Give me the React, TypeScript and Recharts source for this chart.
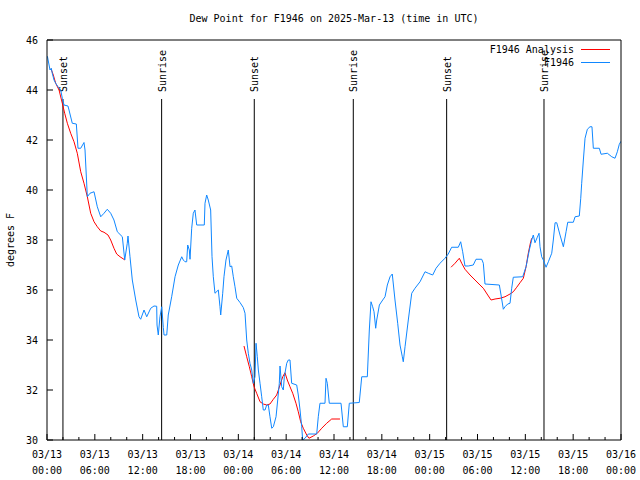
import { LineChart, Line, XAxis, YAxis, ReferenceLine } from "recharts";

const FONT = '"DejaVu Sans Mono", "Liberation Mono", monospace';

// hours since 2025-03-13 00:00 UTC
const blueHours = [
  0.05, 0.38, 0.54, 0.66, 0.88, 1.09, 1.38, 1.72, 1.92, 2.13,
  2.63, 2.76, 3.17, 3.68, 3.89, 4.23, 4.64, 4.77, 5.06, 5.39,
  5.9, 6.31, 6.74, 7.15, 7.56, 7.99, 8.4, 8.82, 9.45, 9.75,
  10.07, 10.16, 10.41, 10.7, 11.13, 11.54, 11.75, 12.17, 12.51, 13.01,
  13.42, 13.76, 13.8, 13.96, 14.17, 14.39, 14.59, 14.68, 15.02, 15.21,
  15.64, 16.06, 16.47, 16.9, 17.1, 17.31, 17.52, 17.65, 17.85, 17.94,
  18.15, 18.35, 18.56, 18.78, 19.73, 19.82, 20.03, 20.23, 20.53, 20.7,
  20.86, 21.07, 21.49, 21.7, 21.79, 22.04, 22.2, 22.45, 22.74, 22.96,
  23.17, 23.37, 23.58, 23.8, 24.21, 24.62, 24.84, 25.05, 25.25, 25.46,
  25.68, 25.88, 26.09, 26.22, 26.38, 26.51, 26.72, 26.93, 27.13, 27.35,
  27.56, 27.76, 27.97, 28.19, 28.39, 28.73, 28.94, 29.14, 29.23, 29.44,
  29.64, 29.77, 30.07, 30.27, 30.48, 30.69, 31.32, 31.52, 31.74, 31.95,
  32.07, 32.36, 32.78, 33.83, 34.03, 34.24, 34.87, 35.0, 35.16, 35.41,
  36.88, 37.17, 37.67, 37.92, 39.17, 39.48, 40.18, 40.43, 40.64, 40.85,
  41.02, 41.23, 41.36, 41.69, 42.11, 42.4, 42.69, 43.03, 43.31, 43.65,
  43.99, 44.28, 44.57, 44.69, 44.91, 45.32, 45.75, 46.16, 46.79, 47.42,
  47.83, 48.38, 48.8, 49.3, 49.92, 50.33, 50.76, 51.59, 51.89, 52.14,
  52.43, 52.84, 53.47, 53.81, 54.53, 54.73, 54.94, 56.74, 56.95, 57.24,
  57.45, 57.79, 58.08, 58.29, 58.49, 59.67, 60.09, 60.5, 60.8, 61.0,
  61.21, 61.5, 61.72, 61.84, 62.05, 62.26, 62.6, 62.89, 63.31, 63.51,
  63.73, 63.94, 64.35, 64.77, 65.11, 65.32, 66.02, 66.24, 66.77, 66.95,
  67.07, 67.28, 67.49, 67.78, 68.11, 68.36, 68.53, 69.28, 69.5, 70.29,
  70.84, 71.25, 71.54, 71.79, 72.0,
];
const blueValues = [
  45.35, 44.8, 44.87, 44.67, 44.4, 44.27, 44.13, 44.0, 43.67, 43.4,
  43.36, 43.2, 42.67, 42.64, 41.67, 41.67, 41.9, 41.6, 39.73, 39.87,
  39.93, 39.33, 38.93, 39.07, 39.23, 39.07, 38.8, 38.33, 38.13, 37.2,
  37.87, 38.16, 37.33, 36.4, 35.6, 34.93, 34.83, 35.2, 34.93, 35.27,
  35.36, 35.35, 34.6, 34.2, 34.93, 35.33, 34.5, 34.2, 34.2, 35.0,
  35.73, 36.53, 37.0, 37.33, 37.2, 37.13, 37.13, 37.8, 37.6, 37.23,
  38.47, 39.07, 39.2, 38.6, 38.6, 39.47, 39.8, 39.6, 39.2, 37.33,
  36.53, 35.87, 36.0, 35.33, 35.0, 35.87, 36.53, 37.2, 37.6, 36.93,
  36.96, 36.53, 36.13, 35.67, 35.5, 35.3, 35.07, 34.0, 33.47, 33.07,
  32.8, 32.27, 32.53, 33.87, 33.33, 32.8, 32.27, 31.73, 31.2, 31.2,
  31.4, 31.4, 30.93, 30.47, 30.53, 30.93, 31.6, 32.27, 32.96, 32.13,
  32.0, 32.53, 33.07, 33.2, 33.2, 32.27, 32.2, 31.8, 31.2, 30.53,
  30.0, 30.07, 30.24, 30.24, 30.93, 31.47, 31.47, 32.47, 32.27, 31.47,
  31.47, 30.53, 30.53, 31.47, 31.5, 32.53, 32.53, 34.4, 35.53, 35.33,
  35.13, 34.47, 34.8, 35.4, 35.6, 35.73, 36.2, 36.53, 36.64, 35.6,
  34.67, 33.8, 33.33, 33.13, 33.73, 34.8, 35.87, 36.07, 36.33, 36.73,
  36.67, 36.6, 36.87, 37.07, 37.27, 37.44, 37.71, 37.71, 37.93, 37.53,
  36.96, 36.96, 37.0, 37.23, 37.23, 37.07, 36.24, 36.2, 35.8, 35.23,
  35.33, 35.44, 35.47, 36.07, 36.51, 36.53, 36.93, 37.6, 38.0, 38.2,
  37.89, 38.11, 38.27, 37.73, 37.33, 37.2, 36.91, 37.13, 37.47, 38.0,
  38.69, 38.69, 38.2, 37.73, 38.33, 38.71, 38.71, 38.93, 38.96, 39.67,
  40.27, 41.2, 42.07, 42.43, 42.53, 42.53, 41.67, 41.67, 41.43, 41.47,
  41.33, 41.27, 41.53, 41.83, 41.95,
];

// analysis runs, three separate pieces
const analysis1Hours = [0.5, 0.79, 1.09, 1.51, 1.92, 2.22, 2.55, 2.97, 3.39, 3.8, 4.23, 4.64, 5.06, 5.48, 5.9, 6.31, 6.74, 7.15, 7.65, 7.99, 8.4, 8.74, 9.16, 9.78];
const analysis1Values = [44.85, 44.6, 44.27, 44.0, 43.47, 43.07, 42.67, 42.27, 41.93, 41.47, 40.73, 40.27, 39.73, 39.07, 38.73, 38.53, 38.36, 38.31, 38.2, 38.0, 37.67, 37.44, 37.33, 37.2];

const analysis2Hours = [24.71, 25.05, 25.38, 25.68, 25.97, 26.3, 26.72, 27.13, 27.56, 27.97, 28.39, 28.81, 29.23, 29.57, 29.85, 30.14, 30.48, 30.82, 31.23, 31.52, 31.82, 32.15, 32.58, 32.86, 33.4, 33.91, 34.46, 35.08, 35.71, 36.75];
const analysis2Values = [33.76, 33.33, 32.93, 32.53, 32.13, 31.87, 31.53, 31.44, 31.4, 31.44, 31.63, 31.8, 32.2, 32.53, 32.69, 32.4, 32.13, 31.87, 31.47, 31.13, 30.73, 30.47, 30.2, 30.07, 30.16, 30.27, 30.47, 30.67, 30.84, 30.84];

const analysis3Hours = [50.68, 51.18, 51.72, 52.02, 52.43, 53.06, 53.69, 54.31, 54.73, 55.28, 55.7, 56.2, 56.83, 57.45, 58.08, 58.49, 58.92, 59.33, 59.75, 60.09, 60.37, 60.67, 60.8];
const analysis3Values = [36.91, 37.07, 37.27, 37.07, 36.83, 36.6, 36.4, 36.2, 36.07, 35.8, 35.6, 35.64, 35.67, 35.73, 35.84, 35.93, 36.11, 36.29, 36.47, 36.93, 37.47, 37.93, 38.07];

const sunHours = [2.0, 14.38, 26.0, 38.42, 50.13, 62.34];
const sunLabels = ["Sunset", "Sunrise", "Sunset", "Sunrise", "Sunset", "Sunrise"];

const xTicks = Array.from({ length: 37 }, (_, i) => i * 2);
const dayLabels = ["03/13", "03/13", "03/13", "03/13", "03/14", "03/14", "03/14", "03/14", "03/15", "03/15", "03/15", "03/15", "03/16"];
const timeLabels = ["00:00", "06:00", "12:00", "18:00", "00:00", "06:00", "12:00", "18:00", "00:00", "06:00", "12:00", "18:00", "00:00"];
const yTicks = [30, 32, 34, 36, 38, 40, 42, 44, 46];

const BLUE = "#0f87ff";
const RED = "#ff0000";

const zip = (hs: number[], vs: number[]) => hs.map((h, i) => ({ h, v: vs[i] }));
const station = zip(blueHours, blueValues);
const analysisParts = [
  zip(analysis1Hours, analysis1Values),
  zip(analysis2Hours, analysis2Values),
  zip(analysis3Hours, analysis3Values),
];

function BottomTick(props: any) {
  const { x, y, payload } = props;
  const val = payload.value as number;
  const major = val % 6 === 0;
  const idx = val / 6;
  return (
    <g>
      <line x1={x} y1={y} x2={x} y2={y - (major ? 6 : 3)} stroke="#000" />
      {major && (
        <text x={x} y={y} textAnchor="middle" fontFamily={FONT} fontSize={10} fill="#000">
          <tspan x={x} dy={18}>{dayLabels[idx]}</tspan>
          <tspan x={x} dy={16}>{timeLabels[idx]}</tspan>
        </text>
      )}
    </g>
  );
}

function TopTick(props: any) {
  const { x, y, payload } = props;
  const major = (payload.value as number) % 6 === 0;
  return <line x1={x} y1={y} x2={x} y2={y + (major ? 6 : 3)} stroke="#000" />;
}

function LeftTick(props: any) {
  const { x, y, payload } = props;
  return (
    <g>
      <line x1={x} y1={y} x2={x + 6} y2={y} stroke="#000" />
      <text x={x - 9} y={y} dy={4} textAnchor="end" fontFamily={FONT} fontSize={10} fill="#000">
        {payload.value}
      </text>
    </g>
  );
}

function RightTick(props: any) {
  const { x, y } = props;
  return <line x1={x} y1={y} x2={x - 6} y2={y} stroke="#000" />;
}

function YTitle(props: any) {
  const { x, y, height } = props.viewBox;
  const cx = x - 32;
  const cy = y + height / 2;
  return (
    <text x={cx} y={cy} transform={`rotate(-90 ${cx} ${cy})`} textAnchor="middle" fontFamily={FONT} fontSize={10} fill="#000">
      degrees F
    </text>
  );
}

function SunMark(props: any) {
  const { x, y, height } = props.viewBox;
  const tx = x + 4;
  const ty = y + 52;
  return (
    <g>
      <line x1={x} y1={y + 59} x2={x} y2={y + height} stroke="#000" />
      <text x={tx} y={ty} transform={`rotate(-90 ${tx} ${ty})`} textAnchor="start" fontFamily={FONT} fontSize={10} fill="#000">
        {props.text}
      </text>
    </g>
  );
}

const legendItems = [
  { label: "F1946 Analysis", color: RED },
  { label: "F1946", color: BLUE },
];

export default function App() {
  return (
    <div style={{ position: "absolute", left: 0, top: 0, width: 640, height: 480, background: "#fff", fontFamily: FONT }}>
      <div style={{ position: "absolute", left: 47, width: 574, top: 12, textAlign: "center", fontSize: 10, lineHeight: "14px" }}>
        Dew Point for F1946 on 2025-Mar-13 (time in UTC)
      </div>
      <LineChart width={640} height={480} margin={{ top: 39, right: 18, bottom: 39, left: 46 }}>
        <XAxis
          xAxisId="bottom"
          dataKey="h"
          type="number"
          domain={[0, 72]}
          ticks={xTicks}
          interval={0}
          height={1}
          tickSize={0}
          tickMargin={0}
          tickLine={false}
          tick={<BottomTick />}
          axisLine={{ stroke: "#000" }}
          allowDataOverflow
        />
        <XAxis
          xAxisId="top"
          orientation="top"
          dataKey="h"
          type="number"
          domain={[0, 72]}
          ticks={xTicks}
          interval={0}
          height={1}
          tickSize={0}
          tickMargin={0}
          tickLine={false}
          tick={<TopTick />}
          axisLine={{ stroke: "#000" }}
        />
        <YAxis
          yAxisId="left"
          type="number"
          domain={[30, 46]}
          ticks={yTicks}
          interval={0}
          width={1}
          tickSize={0}
          tickMargin={0}
          tickLine={false}
          tick={<LeftTick />}
          axisLine={{ stroke: "#000" }}
          label={<YTitle />}
          allowDataOverflow
        />
        <YAxis
          yAxisId="right"
          orientation="right"
          type="number"
          domain={[30, 46]}
          ticks={yTicks}
          interval={0}
          width={1}
          tickSize={0}
          tickMargin={0}
          tickLine={false}
          tick={<RightTick />}
          axisLine={{ stroke: "#000" }}
        />
        {sunHours.map((h, i) => (
          <ReferenceLine
            key={`sun-${i}`}
            x={h}
            xAxisId="bottom"
            yAxisId="left"
            stroke="none"
            label={<SunMark text={sunLabels[i]} />}
          />
        ))}
        {analysisParts.map((part, i) => (
          <Line
            key={`an-${i}`}
            xAxisId="bottom"
            yAxisId="left"
            data={part}
            dataKey="v"
            type="linear"
            stroke={RED}
            strokeWidth={1}
            dot={false}
            isAnimationActive={false}
          />
        ))}
        <Line
          xAxisId="bottom"
          yAxisId="left"
          data={station}
          dataKey="v"
          type="linear"
          stroke={BLUE}
          strokeWidth={1}
          dot={false}
          isAnimationActive={false}
        />
      </LineChart>
      <div style={{ position: "absolute", left: 470, top: 43, fontSize: 10 }}>
        {legendItems.map((it) => (
          <div key={it.label} style={{ display: "flex", alignItems: "center", height: 13 }}>
            <span style={{ width: 104, textAlign: "right" }}>{it.label}</span>
            <span style={{ display: "inline-block", width: 29, height: 1, background: it.color, marginLeft: 7 }} />
          </div>
        ))}
      </div>
    </div>
  );
}
